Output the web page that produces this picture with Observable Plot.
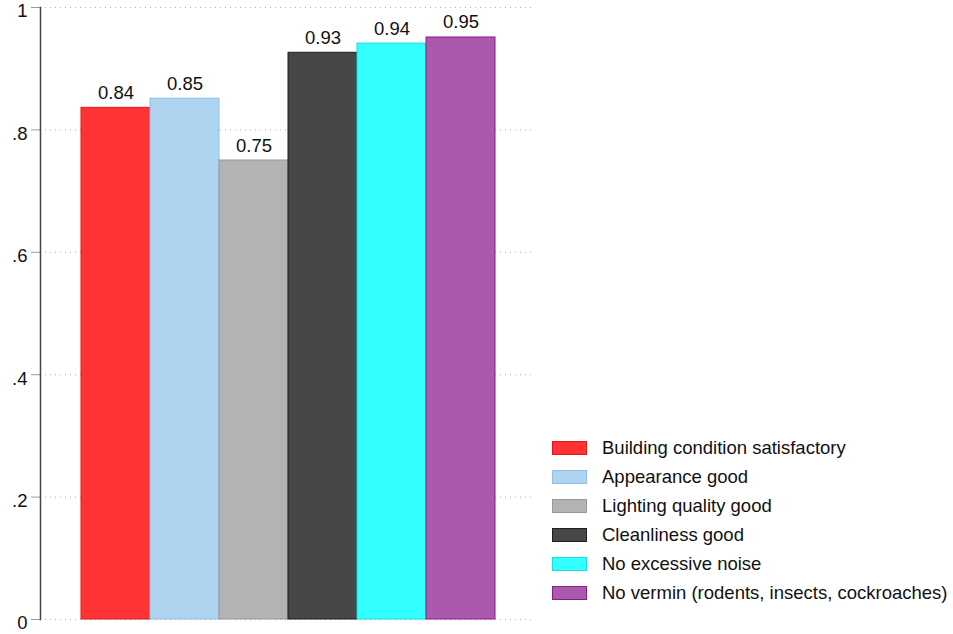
<!DOCTYPE html>
<html>
<head>
<meta charset="utf-8">
<script src="https://cdn.jsdelivr.net/npm/d3@7"></script>
<script src="https://cdn.jsdelivr.net/npm/@observablehq/plot@0.6"></script>
<style>
  body { margin: 0; background: #fff; }
  #wrap { position: relative; width: 953px; height: 634px; font-family: "Liberation Sans", Arial, Helvetica, sans-serif; }
  #legend { position: absolute; left: 552px; top: 433px; }
  .row { display: flex; align-items: center; height: 29px; font-size: 18.5px; color: #111; white-space: nowrap; }
  .sw { width: 33px; height: 12px; border: 1px solid; margin-right: 15px; flex: none; }
</style>
</head>
<body>
<div id="wrap"><div id="chart"></div><div id="legend"></div></div>
<script>
const categories = ["Building condition satisfactory", "Appearance good", "Lighting quality good", "Cleanliness good", "No excessive noise", "No vermin (rodents, insects, cockroaches)"];
const values = [0.836, 0.851, 0.750, 0.926, 0.941, 0.951];
const valueLabels = ["0.84", "0.85", "0.75", "0.93", "0.94", "0.95"];
const fills = ["#ff3333", "#afd4f0", "#b3b3b3", "#474747", "#33ffff", "#aa5aac"];
const strokes = ["#e01818", "#8cc0e8", "#999999", "#1e1e1e", "#12e0e0", "#8a1a8e"];
const yTicks = [0, 0.2, 0.4, 0.6, 0.8, 1];
const yTickLabels = ["0", ".2", ".4", ".6", ".8", "1"];

const data = categories.map((c, i) => ({cat: c, value: values[i], label: valueLabels[i], fill: fills[i], stroke: strokes[i]}));

const chart = Plot.plot({
  width: 953,
  height: 634,
  marginLeft: 40,
  marginRight: 418,
  marginTop: 7,
  marginBottom: 15,
  style: {fontFamily: '"Liberation Sans", Arial, Helvetica, sans-serif', fontSize: "18.5px", background: "white", overflow: "visible"},
  x: {domain: categories, axis: null, paddingInner: 0, paddingOuter: 0.55},
  y: {domain: [0, 1], axis: null},
  marks: [
    Plot.gridY(yTicks, {stroke: "#b0b0b0", strokeOpacity: 1, strokeDasharray: "1,4"}),
    Plot.barY(data, {x: "cat", y: "value", fill: "fill", stroke: "stroke", strokeWidth: 1, inset: 0}),
    Plot.text(data, {x: "cat", y: "value", text: "label", dy: -9, lineAnchor: "bottom", fill: "#111", fontSize: 18.5}),
    Plot.axisY(yTicks, {label: null, tickSize: 9, stroke: "#999", tickFormat: () => ""}),
    Plot.axisY(yTicks, {label: null, tickSize: 0, tickPadding: 13, fill: "#111", fontSize: 18.5, dy: 4, tickFormat: d => yTickLabels[yTicks.indexOf(d)]}),
    Plot.frame({anchor: "left", stroke: "#444", strokeWidth: 1.5})
  ]
});
document.getElementById("chart").appendChild(chart);

const legend = d3.select("#legend");
data.forEach(d => {
  const row = legend.append("div").attr("class", "row");
  row.append("div").attr("class", "sw").style("background", d.fill).style("border-color", d.stroke);
  row.append("span").text(d.cat);
});
</script>
</body>
</html>
